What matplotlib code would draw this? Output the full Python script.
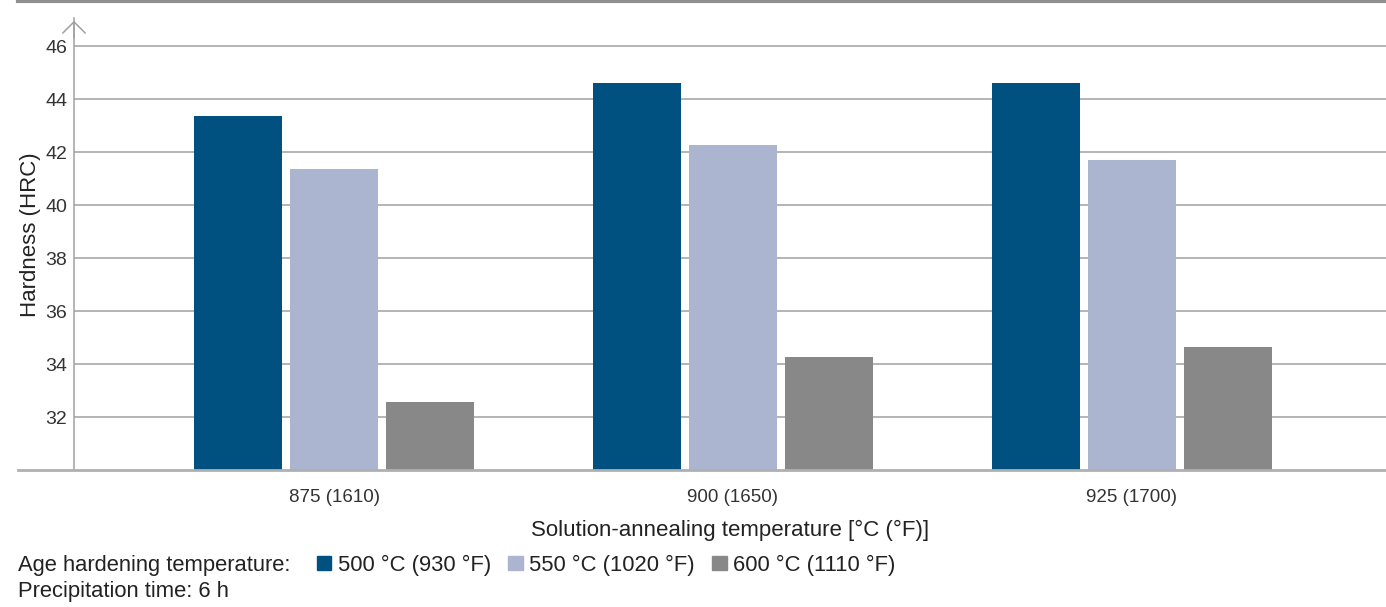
import numpy as np
import matplotlib.pyplot as plt
from matplotlib.lines import Line2D
from matplotlib.patches import Patch

plt.rcParams['font.family'] = ['Liberation Sans', 'DejaVu Sans']

# data
categories = ['875 (1610)', '900 (1650)', '925 (1700)']
series_labels = ['500 °C (930 °F)', '550 °C (1020 °F)', '600 °C (1110 °F)']
hard_500 = [43.35, 44.6, 44.6]
hard_550 = [41.35, 42.25, 41.7]
hard_600 = [32.55, 34.25, 34.65]
yticks = [32, 34, 36, 38, 40, 42, 44, 46]

colors = ['#005080', '#abb5d0', '#888888']
grid_col = '#a0a0a0'
txt_col = '#222222'

fig = plt.figure(figsize=(13.86, 6.07), dpi=100)
ax = fig.add_axes([74 / 1386, 1 - 470 / 607, 1 - 74 / 1386, (470 - 18) / 607])

x = np.arange(len(categories))
width = 0.22
step = 0.241
for i, vals in enumerate([hard_500, hard_550, hard_600]):
    ax.bar(x + (i - 1) * step, np.array(vals) - 30, width, bottom=30,
           color=colors[i], zorder=3)

ax.set_ylim(30, 47.06)
ax.set_xlim(-0.652, 2.637)
ax.set_yticks(yticks)
ax.set_yticklabels([str(t) for t in yticks], fontsize=14, color='#333333')
ax.set_xticks(x)
ax.set_xticklabels(categories, fontsize=13.5, color='#333333')
ax.tick_params(axis='y', length=0, pad=5)
ax.tick_params(axis='x', length=0, pad=14)
ax.yaxis.grid(True, color=grid_col, linewidth=1.1, zorder=0)
for s in ['top', 'right', 'bottom']:
    ax.spines[s].set_visible(False)
ax.spines['left'].set_color(grid_col)
ax.spines['left'].set_linewidth(1.1)

ax.set_ylabel('Hardness (HRC)', fontsize=16, color=txt_col)
ax.yaxis.set_label_coords(-0.025, 0.52)
ax.set_xlabel('Solution-annealing temperature [°C (°F)]', fontsize=16,
              color=txt_col, labelpad=10)

# open chevron arrow at top of y-axis
ax.annotate('', xy=(0, 1.0), xytext=(0, 0.95), xycoords='axes fraction',
            arrowprops=dict(arrowstyle='->,head_width=0.45,head_length=0.45',
                            color=grid_col, lw=1.1, mutation_scale=18))

# baseline extending left past the y-axis, and top rule
fig.add_artist(Line2D([18 / 1386, 1], [1 - 470 / 607] * 2, color='#b0b0b0',
                      lw=2, transform=fig.transFigure))
fig.add_artist(Line2D([18 / 1386, 1], [1 - 1 / 607] * 2, color='#909090',
                      lw=3, transform=fig.transFigure))

# legend row
fig.text(18 / 1386, 1 - 565 / 607, 'Age hardening temperature:', fontsize=15.8,
         color=txt_col, va='center')
handles = [Patch(color=c) for c in colors]
fig.legend(handles, series_labels, loc='center left', ncol=3, frameon=False,
           bbox_to_anchor=(308 / 1386, 1 - 565 / 607), fontsize=15.8,
           handlelength=0.65, handleheight=0.65, handletextpad=0.3,
           columnspacing=0.8, labelcolor=txt_col, borderaxespad=0)
fig.text(18 / 1386, 1 - 592 / 607, 'Precipitation time: 6 h', fontsize=15.8,
         color=txt_col, va='center')

fig.savefig('out.png', dpi=100)
